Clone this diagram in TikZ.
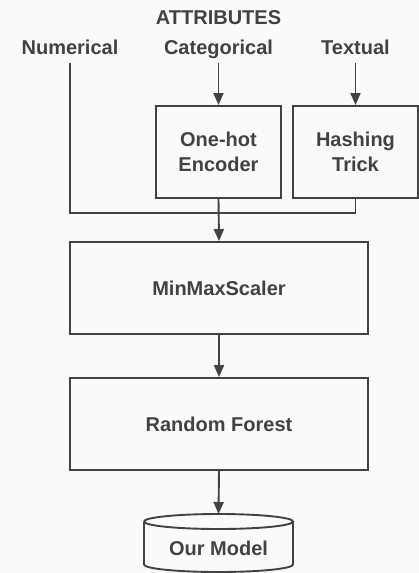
\documentclass[tikz,border=0pt]{standalone}
\usepackage{fontspec}
\setmainfont{Liberation Sans}
\usetikzlibrary{arrows.meta,calc}
\definecolor{bgc}{HTML}{FAFAFA}
\definecolor{fgc}{HTML}{424242}
\tikzset{
  lbl/.style={font=\bfseries\fontsize{20}{25}\selectfont, text=fgc, inner xsep=0pt, inner ysep=4pt, text height=14pt, text depth=5pt, anchor=base},
  box/.style={draw=fgc, line width=1.9pt, font=\bfseries\fontsize{20}{25}\selectfont, text=fgc, align=center, inner sep=0pt},
  conn/.style={draw=fgc, line width=1.9pt},
  arr/.style={conn, -{Triangle[length=12pt,width=10pt]}}
}
\begin{document}
\begin{tikzpicture}[x=1pt,y=-1pt]
\fill[bgc] (0,0) rectangle (419,573);
\useasboundingbox (0,0) rectangle (419,573);
\node[lbl] (attr) at (218.5,24) {ATTRIBUTES};
\node[lbl] (num) at (70,54) {Numerical};
\node[lbl] (cat) at (218.5,54) {Categorical};
\node[lbl] (txt) at (355.5,54) {Textual};
\node[box, minimum width=125pt, minimum height=92pt] (onehot) at (218.5,152) {One-hot\\Encoder};
\node[box, minimum width=125pt, minimum height=92pt] (hash) at (355.5,152) {Hashing\\Trick};
\node[box, minimum width=298pt, minimum height=92pt] (minmax) at (219,288) {MinMaxScaler};
\node[box, minimum width=298pt, minimum height=92pt] (rf) at (219,424) {Random Forest};
\node[font=\bfseries\fontsize{20}{25}\selectfont, text=fgc] (model) at (218.5,548) {Our Model};
\coordinate (mtop) at (218.5,514);
\coordinate (join) at (218.5,213);
% cylinder
\draw[conn] (144,521.5) arc[start angle=180,end angle=-180,x radius=74.5pt,y radius=7.5pt];
\draw[conn] (144,521.5) -- (144,564.5) arc[start angle=180,end angle=0,x radius=74.5pt,y radius=-7.5pt] -- (293,521.5);
% connectors
\draw[arr] (cat.south) -- (onehot.north);
\draw[arr] (txt.south) -- (hash.north);
\draw[conn] (num.south) -- (num.south |- join) -- (hash.south |- join) -- (hash.south);
\draw[arr] (onehot.south) -- (minmax.north);
\draw[arr] (minmax.south) -- (rf.north);
\draw[arr] (rf.south) -- (mtop);
\end{tikzpicture}
\end{document}
